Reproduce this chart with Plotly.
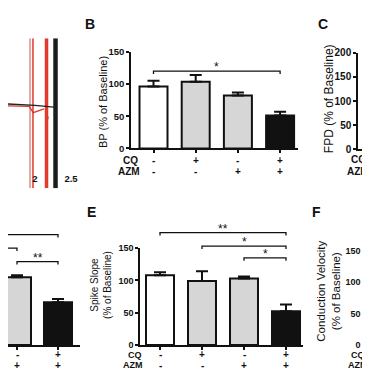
import plotly.graph_objects as go

W = H = 370
FONT = "Liberation Sans"
BLACK = "#111111"

# ---------------- data ----------------
cq_row = ["-", "+", "-", "+"]
azm_row = ["-", "-", "+", "+"]
bar_fills = ["#ffffff", "#d6d6d6", "#d6d6d6", "#111111"]

# panel A (partial recording traces)
trace_t_black = [1.62, 1.80, 2.00, 2.15, 2.30]
trace_v_black = [7.0, 6.5, 5.5, 4.5, 3.5]
trace_t_red = [1.62, 1.80, 1.92, 1.975, 2.02, 2.08, 2.125]
trace_v_red = [5.0, 5.0, 4.5, -2.0, -1.0, 0.5, 2.0]
red_tail_t = [2.17, 2.185]
red_tail_v = [-10.0, -6.0]
stim_t = [1.931, 1.972, 2.160, 2.285]
stim_colors = ["#e58a80", "#d93a2e", "#e23a2d", "#1c1c1c"]
stim_widths = [1.5, 1.5, 3.5, 4.5]
stim_top, stim_bottom = 75, -80
a_ticks = [2, 2.5]
a_ticktext = ["2", "2.5"]

# panel B: BP
bp_idx = [0, 1, 2, 3]
bp_mean = [96, 103.5, 82, 51]
bp_sem = [9, 10.5, 5, 6]
bp_ticks = [0, 50, 100, 150]
bp_sig = [(0, 3, 120, "*")]

# panel C: FPD (only first bar inside crop)
fpd_idx = [0]
fpd_mean = [98]
fpd_sem = [0]
fpd_ticks = [0, 50, 100, 150, 200]

# panel D (cut off): visible bars
d_idx = [2, 3]
d_mean = [105, 66]
d_sem = [3, 5]
d_sig = [(-1, 3, 171, ""), (-1, 2, 150, ""), (2, 3, 129, "**")]

# panel E: spike slope
se_idx = [0, 1, 2, 3]
se_mean = [108, 99, 103, 52]
se_sem = [4.5, 15, 3, 10.5]
se_ticks = [0, 50, 100, 150]
se_sig = [(0, 3, 174, "**"), (1, 3, 153, "*"), (2, 3, 135, "*")]

# panel F: conduction velocity
cv_idx = [0]
cv_mean = [128]
cv_sem = [0]
cv_ticks = [0, 50, 100, 150]


def px(x):
    return x / W


def py(y):
    return 1 - y / H


fig = go.Figure()
layout = dict(width=W, height=H, margin=dict(l=0, r=0, t=0, b=0),
              paper_bgcolor="white", plot_bgcolor="rgba(0,0,0,0)",
              showlegend=False, font=dict(family=FONT, color=BLACK))
shapes = []
annotations = []

# ---------------- panel A ----------------
a_left, a_right, a_c2, a_unit = 0, 80, 27, 72
layout["xaxis"] = dict(domain=[px(a_left), px(a_right)],
                       range=[2 + (a_left - a_c2) / a_unit, 2 + (a_right - a_c2) / a_unit],
                       anchor="free", position=py(163), showline=False, ticks="",
                       tickvals=a_ticks, ticktext=a_ticktext, showgrid=False, zeroline=False,
                       tickfont=dict(size=9.5, weight="bold", color=BLACK))
layout["yaxis"] = dict(domain=[py(180), py(25)], range=[-80, 75], anchor="x",
                       visible=False, showgrid=False, zeroline=False)
for t, c, w in zip(stim_t, stim_colors, stim_widths):
    fig.add_trace(go.Scatter(x=[t, t], y=[stim_bottom, stim_top], mode="lines",
                             line=dict(color=c, width=w), xaxis="x", yaxis="y",
                             hoverinfo="skip"))
fig.add_trace(go.Scatter(x=trace_t_red, y=trace_v_red, mode="lines",
                         line=dict(color="#d93a2e", width=1.3), xaxis="x", yaxis="y"))
fig.add_trace(go.Scatter(x=red_tail_t, y=red_tail_v, mode="lines",
                         line=dict(color="#d93a2e", width=1.3), xaxis="x", yaxis="y"))
fig.add_trace(go.Scatter(x=trace_t_black, y=trace_v_black, mode="lines",
                         line=dict(color="#222222", width=1.3), xaxis="x", yaxis="y"))

# ---------------- bar panels ----------------
panels = [
    dict(key=2, x_left=123, x_right=290, c0=145.5, pitch=42.2, y_zero=139, y_top=39, ymax=150,
         idx=bp_idx, mean=bp_mean, sem=bp_sem, ticks=bp_ticks, sig=bp_sig, show_y=True,
         tfs=9.5, rows=(151, 163)),
    dict(key=3, x_left=350, x_right=370, c0=373, pitch=42.2, y_zero=140, y_top=40, ymax=200,
         idx=fpd_idx, mean=fpd_mean, sem=fpd_sem, ticks=fpd_ticks, sig=[], show_y=True,
         tfs=10, rows=(150, 163)),
    dict(key=4, x_left=132, x_right=295, c0=152, pitch=42, y_zero=342, y_top=242, ymax=150,
         idx=se_idx, mean=se_mean, sem=se_sem, ticks=se_ticks, sig=se_sig, show_y=True,
         tfs=9, rows=(352, 363.5)),
    dict(key=5, x_left=359, x_right=370, c0=376, pitch=42, y_zero=342, y_top=245, ymax=150,
         idx=cv_idx, mean=cv_mean, sem=cv_sem, ticks=cv_ticks, sig=[], show_y=True,
         tfs=9, rows=(352, 363.5)),
    dict(key=6, x_left=0, x_right=72, c0=-73, pitch=41, y_zero=342, y_top=242, ymax=150,
         idx=d_idx, mean=d_mean, sem=d_sem, ticks=[], sig=d_sig, show_y=False,
         tfs=9, rows=(352, 363.5)),
]

for p in panels:
    k, ko = p["key"], p["key"] + 10
    xr = [(p["x_left"] - p["c0"]) / p["pitch"], (p["x_right"] - p["c0"]) / p["pitch"]]
    scale = (p["y_zero"] - p["y_top"]) / p["ymax"]
    xdom = [px(p["x_left"]), px(p["x_right"])]
    layout[f"xaxis{k}"] = dict(domain=xdom, range=xr, anchor=f"y{k}", showline=True,
                               linewidth=1.5, linecolor=BLACK, ticks="outside", ticklen=3,
                               tickwidth=1.5, tickcolor=BLACK, tickvals=p["idx"],
                               showticklabels=False, showgrid=False, zeroline=False)
    layout[f"yaxis{k}"] = dict(domain=[py(p["y_zero"]), py(p["y_top"])], range=[0, p["ymax"]],
                               anchor=f"x{k}", showline=p["show_y"], linewidth=1.5,
                               linecolor=BLACK, ticks="outside" if p["show_y"] else "",
                               ticklen=3, tickwidth=1.5, tickcolor=BLACK,
                               tickvals=p["ticks"], ticktext=[str(v) for v in p["ticks"]],
                               showticklabels=p["show_y"], showgrid=False, zeroline=False,
                               tickfont=dict(size=p["tfs"], weight="bold", color=BLACK))
    otop = max(0, p["y_zero"] - 200 * scale)
    layout[f"xaxis{ko}"] = dict(domain=xdom, range=xr, anchor=f"y{ko}", visible=False)
    layout[f"yaxis{ko}"] = dict(domain=[py(p["y_zero"]), py(otop)],
                                range=[0, (p["y_zero"] - otop) / scale], anchor=f"x{ko}",
                                visible=False)
    fills = [bar_fills[i] for i in p["idx"]]
    fig.add_trace(go.Bar(x=p["idx"], y=p["mean"], width=28 / p["pitch"],
                         marker=dict(color=fills, line=dict(color=BLACK, width=2)),
                         error_y=dict(type="data", symmetric=False, array=p["sem"],
                                      arrayminus=[0] * len(p["idx"]), color=BLACK,
                                      thickness=2, width=6, visible=any(p["sem"])),
                         xaxis=f"x{k}", yaxis=f"y{k}"))
    for i in p["idx"]:
        for row_txt, ry in ((cq_row[i], p["rows"][0]), (azm_row[i], p["rows"][1])):
            annotations.append(dict(x=i, y=py(ry), xref=f"x{k}", yref="paper",
                                    text=f"<b>{row_txt}</b>", showarrow=False,
                                    xanchor="center", yanchor="middle", borderpad=0,
                                    font=dict(size=10, color=BLACK)))
    tick = 3 / scale
    for a, b, lvl, lab in p["sig"]:
        shapes.append(dict(type="path", xref=f"x{ko}", yref=f"y{ko}",
                           path=f"M {a},{lvl - tick} L {a},{lvl} L {b},{lvl} L {b},{lvl - tick}",
                           line=dict(color=BLACK, width=1.3)))
        if lab:
            annotations.append(dict(x=(a + b) / 2, y=lvl, xref=f"x{ko}", yref=f"y{ko}",
                                    text=lab, showarrow=False, xanchor="center",
                                    yanchor="bottom", yshift=-5,
                                    font=dict(size=12, color=BLACK)))

# ---------------- texts ----------------
def txt(x, y, s, size, bold=False, angle=0):
    annotations.append(dict(x=px(x), y=py(y), xref="paper", yref="paper", text=s,
                            showarrow=False, xanchor="center", yanchor="middle",
                            textangle=angle, borderpad=0,
                            font=dict(size=size, color=BLACK, family=FONT,
                                      weight="bold" if bold else "normal")))

txt(82, 10, "B", 14, True)
txt(315, 10, "C", 14, True)
txt(83, 205, "E", 14, True)
txt(308, 205, "F", 14, True)
txt(95, 91, "BP (% of Baseline)", 11, angle=-90)
txt(321, 88, "FPD (% of Baseline)", 12, angle=-90)
txt(93, 280, "Spike Slope<br>(% of Baseline)", 10, angle=-90)
txt(321, 287, "Conduction Velocity<br>(% of Baseline)", 11.5, angle=-90)
txt(122, 151, "CQ", 10, True)
txt(121, 163, "AZM", 10, True)
txt(350, 150, "CQ", 10, True)
txt(350, 163, "AZM", 10, True)
txt(127, 352.5, "CQ", 9, True)
txt(125, 363, "AZM", 9, True)
txt(350, 352.5, "CQ", 9, True)
txt(350, 363, "AZM", 9, True)

layout["shapes"] = shapes
layout["annotations"] = annotations
fig.update_layout(**layout)
fig.write_html("out.html")
